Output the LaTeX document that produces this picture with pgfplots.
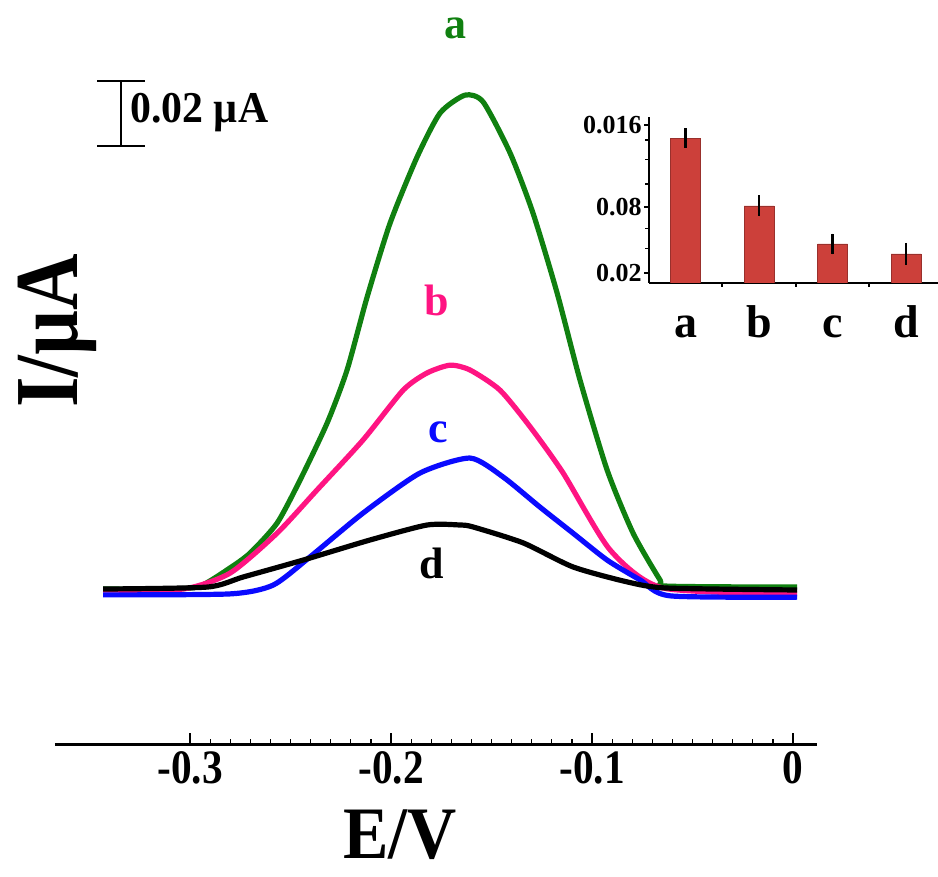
\documentclass[border=0pt]{standalone}
\usepackage{fontspec}
\setmainfont{Liberation Serif}
\usepackage{graphicx}
\usepackage{pgfplots}
\pgfplotsset{compat=1.18}

\definecolor{cA}{RGB}{16,128,16}
\definecolor{cB}{RGB}{255,20,130}
\definecolor{cC}{RGB}{10,10,255}
\definecolor{cD}{RGB}{0,0,0}
\definecolor{barred}{RGB}{204,64,58}

\newcommand{\sx}[1]{\scalebox{0.86}[1]{#1}}

\begin{document}
\begin{tikzpicture}
\path[use as bounding box] (0,0) rectangle (469pt,438.5pt);

% main DPV curves
\begin{axis}[
  at={(27.5pt,66pt)}, anchor=south west,
  scale only axis, width=381pt, height=367.5pt,
  xmin=-0.3672, xmax=0.0119, ymin=-0.0477, ymax=0.1785,
  axis x line*=bottom, hide y axis,
  x axis line style={line width=1.5pt},
  xtick={-0.3,-0.2,-0.1,0},
  xticklabels={\sx{-0.3},\sx{-0.2},\sx{-0.1},\sx{0}},
  minor x tick num=9,
  tick align=inside,
  major tick length=6pt, minor tick length=3pt,
  every tick/.style={black, line width=1pt},
  every minor tick/.append style={line width=0.6pt},
  tick label style={font=\bfseries\fontsize{24}{24}\selectfont},
  clip=false,
]
\addplot[cA, line width=2.6pt, line join=round, smooth, tension=0.4] coordinates {
  (-0.3433,0.0003) (-0.3100,0.0003) (-0.2950,0.0012) (-0.2801,0.0068)
  (-0.2701,0.0114) (-0.2567,0.0206) (-0.2453,0.0338) (-0.2318,0.0514)
  (-0.2219,0.0677) (-0.2119,0.0902) (-0.2005,0.1129) (-0.1871,0.1332)
  (-0.1756,0.1468) (-0.1632,0.1523) (-0.1542,0.1502) (-0.1408,0.1345)
  (-0.1294,0.1160) (-0.1174,0.0914) (-0.1060,0.0646) (-0.0925,0.0369)
  (-0.0796,0.0175) (-0.0662,0.0031) (-0.0627,0.0012) (0.0020,0.0009)};
\addplot[cB, line width=2.6pt, line join=round, smooth, tension=0.4] coordinates {
  (-0.3433,0.0000) (-0.3035,0.0003) (-0.2801,0.0052) (-0.2567,0.0175)
  (-0.2368,0.0308) (-0.2139,0.0462) (-0.1940,0.0615) (-0.1821,0.0668)
  (-0.1706,0.0692) (-0.1607,0.0677) (-0.1458,0.0615) (-0.1308,0.0502)
  (-0.1144,0.0360) (-0.0910,0.0123) (-0.0647,0.0006) (0.0020,-0.0012)};
\addplot[cC, line width=2.6pt, line join=round, smooth, tension=0.4] coordinates {
  (-0.3433,-0.0015) (-0.2801,-0.0012) (-0.2587,0.0015) (-0.2403,0.0102)
  (-0.2139,0.0237) (-0.1856,0.0360) (-0.1607,0.0406) (-0.1443,0.0348)
  (-0.1259,0.0255) (-0.1095,0.0175) (-0.0925,0.0092) (-0.0761,0.0031)
  (-0.0612,-0.0018) (0.0020,-0.0022)};
\addplot[cD, line width=2.6pt, line join=round, smooth, tension=0.4] coordinates {
  (-0.3433,0.0003) (-0.2915,0.0009) (-0.2736,0.0040) (-0.2438,0.0092)
  (-0.2104,0.0154) (-0.1821,0.0200) (-0.1657,0.0200) (-0.1592,0.0194)
  (-0.1343,0.0145) (-0.1095,0.0071) (-0.0826,0.0025) (-0.0627,0.0006)
  (0.0020,0.0000)};

\node[text=cA, font=\bfseries\fontsize{22}{22}\selectfont] at (axis cs:-0.1682,0.1729) {a};
\node[text=cB, font=\bfseries\fontsize{22}{22}\selectfont] at (axis cs:-0.1771,0.0892) {b};
\node[text=cC, font=\bfseries\fontsize{22}{22}\selectfont] at (axis cs:-0.1766,0.0486) {c};
\node[text=cD, font=\bfseries\fontsize{22}{22}\selectfont] at (axis cs:-0.1796,0.0083) {d};

% scale bar
\draw[line width=1pt] (axis cs:-0.3463,0.1566) -- (axis cs:-0.3224,0.1566)
  (axis cs:-0.3343,0.1566) -- (axis cs:-0.3343,0.1366)
  (axis cs:-0.3463,0.1366) -- (axis cs:-0.3224,0.1366);
\node[anchor=west, inner sep=0pt, font=\bfseries\fontsize{22}{22}\selectfont]
  at (axis cs:-0.3299,0.1468) {\scalebox{0.95}[1]{0.02 µA}};
\end{axis}

% inset bar chart
\begin{axis}[
  at={(324.5pt,297pt)}, anchor=south west,
  scale only axis, width=144.5pt, height=83pt,
  xmin=-0.497, xmax=3.435, ymin=0, ymax=0.01681,
  axis x line*=bottom, axis y line*=left,
  axis line style={line width=1.2pt},
  ybar, bar width=15pt,
  scaled y ticks=false,
  xtick={0,1,2,3}, xticklabels={a,b,c,d},
  major x tick style={draw=none},
  minor xtick={0.5,1.5,2.5},
  ytick={0.001,0.0077,0.016}, yticklabels={0.02,0.08,0.016},
  minor ytick={0.0035,0.0055,0.0100,0.0125,0.0145},
  tick align=outside,
  major tick length=2.5pt, minor tick length=2pt,
  every tick/.style={black, line width=0.8pt},
  x tick label style={font=\bfseries\fontsize{23}{23}\selectfont,
    anchor=base, yshift=-25pt},
  y tick label style={font=\bfseries\fontsize{13}{13}\selectfont, inner sep=1pt},
]
\addplot[fill=barred, draw=barred!75!black, line width=0.4pt,
  error bars/.cd, y dir=both, y explicit,
  error bar style={line width=1.4pt, black}, error mark=none]
  coordinates {
  (0,0.01468) +- (0,0.00101)
  (1,0.00780) +- (0,0.00106)
  (2,0.00395) +- (0,0.00106)
  (3,0.00294) +- (0,0.00111)};
\end{axis}

\node[anchor=base, font=\bfseries\fontsize{37}{37}\selectfont]
  at (200pt,9pt) {\scalebox{0.92}[1]{E/V}};
\node[anchor=base, rotate=90, font=\bfseries\fontsize{45}{45}\selectfont]
  at (38.5pt,273pt) {\scalebox{0.87}[1]{I/µA}};
\end{tikzpicture}
\end{document}
